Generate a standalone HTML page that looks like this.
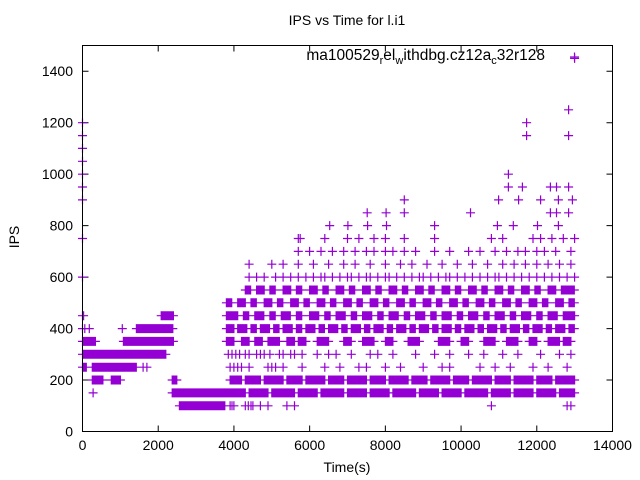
<!DOCTYPE html>
<html><head><meta charset="utf-8"><style>
html,body{margin:0;padding:0;background:#fff;}
svg{display:block;font-family:"Liberation Sans",sans-serif;}
</style></head><body>
<svg id="chart" width="640" height="480" viewBox="0 0 640 480" xmlns="http://www.w3.org/2000/svg">
<rect x="0" y="0" width="640" height="480" fill="#fff"/>
<text x="347" y="25" font-size="14" text-anchor="middle">IPS vs Time for l.i1</text>
<text x="347" y="472" font-size="14" text-anchor="middle">Time(s)</text>
<text x="19" y="237" font-size="14" text-anchor="middle" transform="rotate(-90 19 237)">IPS</text>
<g id="ticks"></g>
<g id="marks"></g>
<rect x="82.5" y="45.5" width="530" height="386" fill="none" stroke="#000" stroke-width="1"/>
<g>
<text x="545" y="60" font-size="15.5" text-anchor="end">ma100529<tspan font-size="11" dy="4">r</tspan><tspan dy="-4">el</tspan><tspan font-size="11" dy="4">w</tspan><tspan dy="-4">ithdbg.cz12a</tspan><tspan font-size="11" dy="4">c</tspan><tspan dy="-4">32r128</tspan></text>
<path d="M570 57h9M574.5 52.5v9" stroke="#9400d3" stroke-width="1.2"/>
</g>
</svg>
<script>
const xTicks=[0,2000,4000,6000,8000,10000,12000,14000];
const yTicks=[0,200,400,600,800,1000,1200,1400];
// left-region dense runs: [level, tStart, tEnd]
const runLevels=[450,400,350,350,300,250,250,200,200,200,150,100,100];
const runStarts=[2080,1425,1080,0,0,0,260,260,760,2370,2370,2560,3640];
const runEnds=[2400,2400,2400,350,2200,100,1420,550,1000,2500,3770,3770,3770];
// right-region segmented runs per level, flat [start,end,start,end,...]
const segs150=[3800,4300,4400,4900,5000,5600,5700,6200,6300,6900,7000,7500,7600,8100,8200,8800,8900,9400,9500,10000,10100,10700,10800,11300,11400,11900,12000,12500,12600,13000];
const segs200=[3900,4200,4300,4700,4800,5300,5400,5800,5900,6400,6500,6900,7000,7500,7600,8000,8100,8600,8700,9100,9200,9700,9800,10200,10300,10800,10900,11300,11400,11900,12000,12400,12500,13000];
const segs350=[3800,4000,4200,4400,4550,4750,4900,5200,5400,5600,5700,5900,6200,6500,6900,7100,7400,7700,8000,8200,8600,8900,9400,9700,10000,10200,10600,10900,11200,11500,11800,12000,12300,12600,12700,12900];
const segs400=[3800,4000,4100,4350,4450,4600,4700,4950,5050,5200,5300,5550,5650,5800,5900,6150,6250,6400,6500,6750,6850,7000,7100,7350,7450,7600,7700,7950,8050,8200,8300,8550,8650,8800,8900,9150,9250,9400,9500,9750,9850,10000,10100,10350,10450,10600,10700,10950,11050,11200,11300,11550,11650,11800,11900,12150,12250,12400,12500,12750,12850,13000];
const segs450=[3800,4100,4250,4400,4550,4800,4950,5100,5250,5500,5650,5800,6000,6250,6400,6550,6700,6950,7100,7250,7400,7650,7800,7950,8100,8350,8500,8650,8800,9050,9200,9350,9500,9750,9900,10050,10200,10450,10600,10750,10900,11150,11300,11450,11600,11850,12000,12150,12300,12550,12700,13000];
const segs500=[3800,3950,4100,4300,4450,4600,4800,5000,5150,5300,5500,5700,5850,6000,6200,6400,6550,6700,6900,7100,7250,7400,7600,7800,7950,8100,8300,8500,8650,8800,9000,9200,9350,9500,9700,9900,10050,10200,10400,10600,10750,10900,11100,11300,11450,11600,11800,12000,12150,12300,12500,12700,12850,13000];
const segs550=[4300,4450,4600,4800,4950,5100,5300,5500,5650,5800,6000,6200,6350,6500,6700,6900,7050,7200,7400,7600,7750,7900,8100,8300,8450,8600,8800,9000,9150,9300,9500,9700,9850,10000,10200,10400,10550,10700,10900,11100,11250,11400,11600,11800,11950,12100,12300,12500,12650,13000];
const segLevels=[150,200,350,400,450,500,550];
const segSets=[segs150,segs200,segs350,segs400,segs450,segs500,segs550];
// sparse points per level
const pts100=[3900,3950,4000,4300,4380,4450,4500,4700,4900,5400,5600,10800,12800,12900];
const pts150=[280];
const pts250=[1600,1700,3900,4000,4100,4200,4400,4900,5000,5100,5300,5800,6400,6800,7300,7500,8000,8400,9000,9500,9700,10500,10900,11300,11900,12300,12800];
const pts300=[3850,3950,4050,4150,4300,4400,4600,4700,4800,4950,5200,5300,5500,5600,5800,6200,6500,6700,7100,7600,7800,8200,8800,9300,9700,10200,10600,11100,11500,12100,12600,12900];
const pts400=[0,60,180,1050];
const pts450=[0,30];
const pts600=[0,4400,4600,4800,5100,5300,5500,5700,5900,6100,6300,6400,6600,6800,7000,7100,7300,7500,7600,7800,8000,8100,8300,8500,8700,8900,9000,9200,9400,9600,9700,9900,10100,10300,10500,10700,10900,11000,11200,11400,11600,11800,12000,12200,12400,12600,12800,13000];
const pts650=[4400,5000,5300,5700,6100,6500,6900,7200,7600,8000,8400,8700,9100,9500,9900,10300,10700,11100,11400,11700,12000,12300,12600,12900];
const pts700=[5700,6000,6300,6600,6900,7200,7500,7700,8000,8200,8500,8800,9300,9700,10200,10500,10900,11200,11500,11700,12000,12200,12500,12900];
const pts750=[0,5700,5750,6400,7000,7300,7700,8000,8500,9300,10800,11100,11900,12100,12400,12700,13000];
const pts800=[6530,7010,7530,8030,9300,10960,11380,12020,12570];
const pts850=[7520,8020,8500,10250,12360,12520,12840];
const pts900=[0,8500,10990,11520,12100,12570,12940];
const pts950=[0,11250,11620,12360,12520,12840];
const pts1000=[0,11250];
const pts1050=[0];
const pts1100=[0];
const pts1150=[0,11730,12840];
const pts1200=[0,11730];
const pts1250=[12840];
const pts1450=[13000];
const sparseLevels=[100,150,250,300,400,450,600,650,700,750,800,850,900,950,1000,1050,1100,1150,1200,1250,1450];
const sparseSets=[pts100,pts150,pts250,pts300,pts400,pts450,pts600,pts650,pts700,pts750,pts800,pts850,pts900,pts950,pts1000,pts1050,pts1100,pts1150,pts1200,pts1250,pts1450];

const X0=82.5,X1=612.5,Y0=431.5,Y1=45.5;
function xs(t){return X0+(t-0)/(14000-0)*(X1-X0);}
function ys(v){return Y0-(v-0)/(1500-0)*(Y0-Y1);}
const NS="http://www.w3.org/2000/svg";
const tg=document.getElementById('ticks');
let td="";
xTicks.forEach(t=>{const x=xs(t);td+=`M${x} ${Y0}v-6M${x} ${Y1}v6`;
 const tx=document.createElementNS(NS,'text');
 
 
 tx.setAttribute('x',x);tx.setAttribute('y',450);tx.setAttribute('font-size','14');tx.setAttribute('text-anchor','middle');
 tx.textContent=t;tg.appendChild(tx);});
yTicks.forEach(v=>{const y=ys(v);td+=`M${X0} ${y}h6M${X1} ${y}h-6`;
 const tx=document.createElementNS(NS,'text');
 
 
 tx.setAttribute('x',73);tx.setAttribute('y',y+5);tx.setAttribute('font-size','14');tx.setAttribute('text-anchor','end');
 tx.textContent=v;tg.appendChild(tx);});
const tp=document.createElementNS(NS,'path');


tp.setAttribute('d',td);tp.setAttribute('stroke','#000');tp.setAttribute('fill','none');tg.appendChild(tp);

let d="";
function plus(t,v){const x=xs(t),y=ys(v);d+=`M${(x-4.5).toFixed(1)} ${y.toFixed(1)}h9M${x.toFixed(1)} ${(y-4.5).toFixed(1)}v9`;}
function run(lv,a,b){for(let t=a;t<=b;t+=20)plus(t,lv);}
for(let i=0;i<runLevels.length;i++)run(runLevels[i],runStarts[i],runEnds[i]);
segLevels.forEach((lv,i)=>{const s=segSets[i];for(let k=0;k<s.length;k+=2)run(lv,s[k],s[k+1]);});
sparseLevels.forEach((lv,i)=>sparseSets[i].forEach(t=>plus(t,lv)));
const mp=document.createElementNS(NS,'path');


mp.setAttribute('d',d);mp.setAttribute('stroke','#9400d3');mp.setAttribute('stroke-width','1.2');mp.setAttribute('fill','none');
document.getElementById('marks').appendChild(mp);
</script>
</body></html>
